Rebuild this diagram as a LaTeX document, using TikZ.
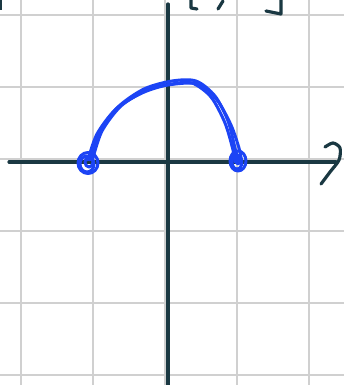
\documentclass[tikz,border=0pt]{standalone}
\usetikzlibrary{calc}
\definecolor{gridgray}{RGB}{208,208,208}
\definecolor{axisdark}{RGB}{26,56,66}
\definecolor{penblue}{RGB}{28,68,245}
\begin{document}
\begin{tikzpicture}[x=1pt,y=-1pt,
  gridline/.style={draw=gridgray,line width=2.4pt},
  axisline/.style={draw=axisdark,line width=3.2pt,line cap=round},
  inkstroke/.style={draw=axisdark,line width=3.2pt,line cap=round,line join=round},
  bluestroke/.style={draw=penblue,line width=3pt,line cap=round,line join=round}]
\fill[white] (0,0) rectangle (344,385);
\useasboundingbox (0,0) rectangle (344,385);
% grid
\foreach \gx in {21,93,165,237,309} \draw[gridline] (\gx,0) -- (\gx,385);
\foreach \gy in {15,87,159,231,303,375} \draw[gridline] (0,\gy) -- (344,\gy);
% axes
\draw[axisline] (168,4) -- (168,386);
\draw[axisline] (9,162) -- (336,162);
% hook at right end
\draw[inkstroke] plot[smooth] coordinates {(325,147) (333,143) (340,148) (339,160) (330,172) (321,184)};
% top marks
\draw[inkstroke] (191,0) -- (191,8) -- (197,9);
\draw[inkstroke] (223,1) -- (218,9);
\draw[inkstroke] (281,0) -- (281,14) -- (266,11);
\fill[axisdark] (0,0) rectangle (2,10);
% blue arc, several strokes
\draw[bluestroke] plot[smooth] coordinates {(90,160) (99,133) (118,107) (144,89) (172,81) (196,81) (215,96) (228,121) (235,148) (238,160)};
\draw[bluestroke] plot[smooth] coordinates {(93,158) (102,131) (121,106) (147,90) (172,84) (192,83) (211,97) (225,123) (233,150) (235,162)};
\draw[bluestroke] plot[smooth] coordinates {(88,160) (97,134) (116,109) (142,93) (168,85) (198,84) (217,100) (231,125) (239,148) (241,158)};
% end dots
\draw[bluestroke] (88,163) ellipse [x radius=10, y radius=10.5];
\draw[bluestroke] (87,164) ellipse [x radius=7, y radius=8];
\draw[bluestroke] (89,162) ellipse [x radius=4, y radius=5];
\draw[bluestroke] (238,161) ellipse [x radius=8, y radius=10];
\draw[bluestroke] (237,162) ellipse [x radius=5, y radius=7];
\draw[bluestroke] (238,160) ellipse [x radius=2, y radius=4];
\end{tikzpicture}
\end{document}
